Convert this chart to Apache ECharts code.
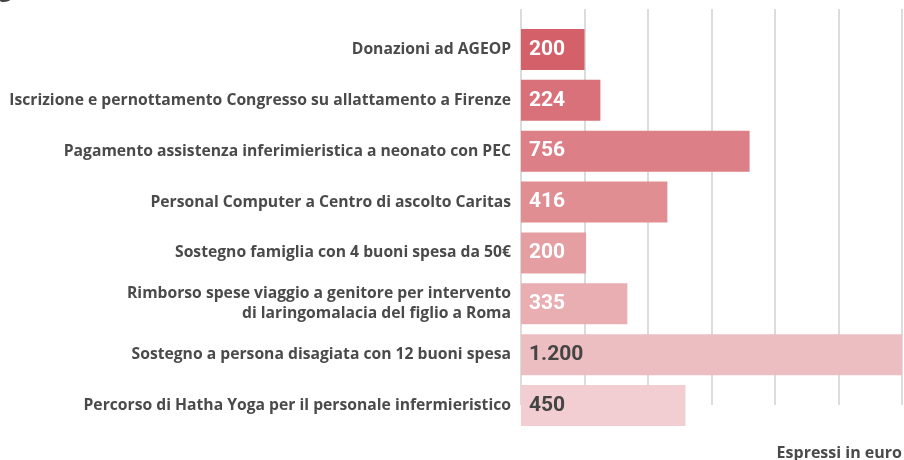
<!DOCTYPE html>
<html><head><meta charset="utf-8">
<script src="https://cdn.jsdelivr.net/npm/echarts@6/dist/echarts.min.js"></script>
<style>html,body{margin:0;padding:0;background:#fff}#c{width:904px;height:460px}</style>
</head><body><div id="c"></div>
<script>
const categories = [
  "Donazioni ad AGEOP",
  "Iscrizione e pernottamento Congresso su allattamento a Firenze",
  "Pagamento assistenza inferimieristica a neonato con PEC",
  "Personal Computer a Centro di ascolto Caritas",
  "Sostegno famiglia con 4 buoni spesa da 50€",
  "Rimborso spese viaggio a genitore per intervento\ndi laringomalacia del figlio a Roma",
  "Sostegno a persona disagiata con 12 buoni spesa",
  "Percorso di Hatha Yoga per il personale infermieristico"
];
// printed amounts (euro)
const amounts = [200, 224, 756, 416, 200, 335, 1200, 450];
// bar lengths as drawn in the reference picture
const barLengths = [200, 250, 720, 461, 205, 335, 1200, 518];
const barColors = ["#d4606a", "#d9717a", "#dc7f86", "#e18e93", "#e59fa3", "#e8aeb1", "#edbec1", "#f2ced2"];
const labelColors = ["#ffffff", "#ffffff", "#ffffff", "#ffffff", "#ffffff", "#ffffff", "#444444", "#444444"];
const unitNote = "Espressi in euro";

function fmt(v){ return String(v).replace(/\B(?=(\d{3})+(?!\d))/g, "."); }

const font = "'Open Sans', Roboto, sans-serif";
const numFont = "Roboto, sans-serif";
const chart = echarts.init(document.getElementById('c'), null, {renderer:'canvas'});
chart.setOption({
  animation: false,
  backgroundColor: '#fff',
  textStyle: { fontFamily: font },
  grid: [
    { left: 521, right: 2, top: 24, bottom: 29, containLabel: false, outerBoundsMode: 'none' },
    { left: 521, right: 2, top: 9, bottom: 55, containLabel: false, outerBoundsMode: 'none' }
  ],
  xAxis: [
    { gridIndex: 0, type: 'value', min: 0, max: 1200, interval: 200,
      axisLine: {show:false}, axisTick:{show:false}, axisLabel:{show:false}, splitLine:{show:false} },
    { gridIndex: 1, type: 'value', min: 0, max: 1200, interval: 200,
      axisLine: {show:false}, axisTick:{show:false}, axisLabel:{show:false},
      splitLine:{show:true, lineStyle:{color:'#dcdcdc', width:2}} }
  ],
  yAxis: [
    { gridIndex: 0, type: 'category', data: categories, inverse: true,
      axisLine:{show:false}, axisTick:{show:false},
      axisLabel:{ color:'#4a4a4a', fontWeight:'bold', fontSize:15.7, fontFamily: font, margin:10, lineHeight:20, align:'right' } },
    { gridIndex: 1, type: 'value', show: false }
  ],
  series: [{
    type: 'bar',
    xAxisIndex: 0, yAxisIndex: 0,
    barWidth: 41,
    z: 5,
    data: barLengths.map((v,i)=>({
      value: v,
      itemStyle: { color: barColors[i] },
      label: { color: labelColors[i] }
    })),
    label: {
      show: true, position: 'insideLeft', distance: 8,
      fontSize: 21, fontWeight: 'bold', fontFamily: numFont,
      formatter: p => fmt(amounts[p.dataIndex])
    }
  }],
  graphic: [
    { type: 'text', right: 2, top: 445,
      style: { text: unitNote, fill: '#4a4a4a', font: "bold 16px " + font } },
    { type: 'text', left: -1, top: -20,
      style: { text: 'g', fill: '#444', font: "bold 22px " + font } }
  ]
});
</script></body></html>
